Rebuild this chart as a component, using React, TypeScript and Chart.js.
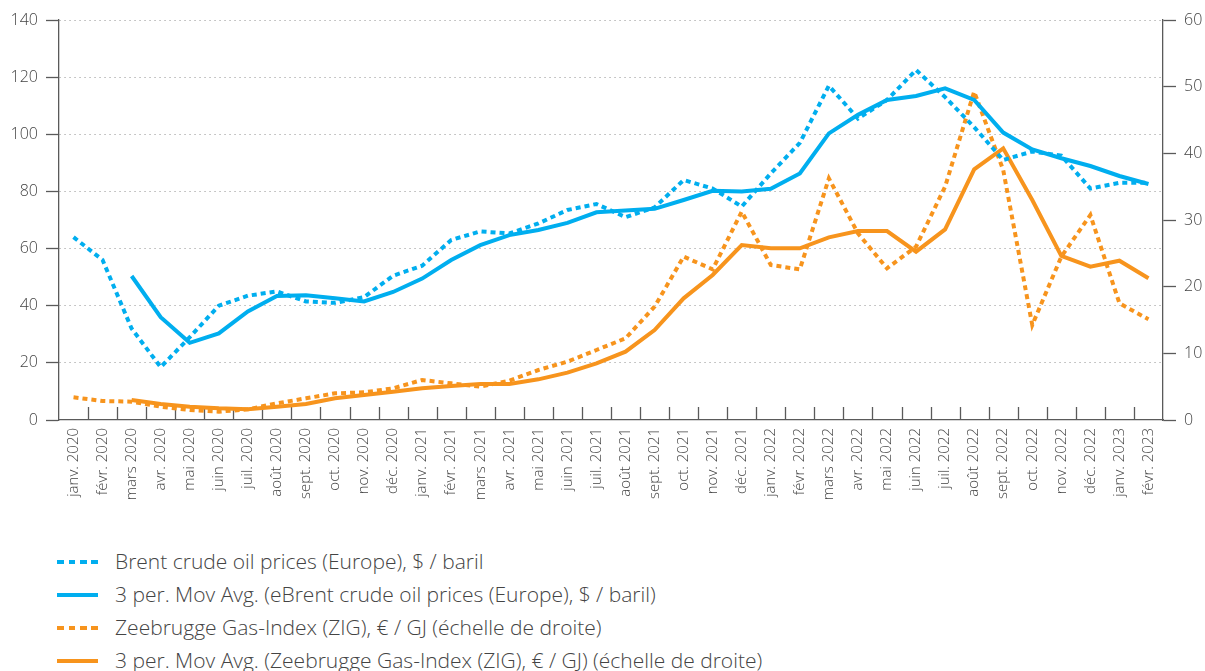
import React, { useEffect, useRef } from "react";
import { Chart, registerables } from "chart.js";

Chart.register(...registerables);

const months = [
  "janv. 2020", "févr. 2020", "mars 2020", "avr. 2020", "mai 2020", "juin 2020",
  "juil. 2020", "août 2020", "sept. 2020", "oct. 2020", "nov. 2020", "déc. 2020",
  "janv. 2021", "févr. 2021", "mars 2021", "avr. 2021", "mai 2021", "juin 2021",
  "juil. 2021", "août 2021", "sept. 2021", "oct. 2021", "nov. 2021", "déc. 2021",
  "janv. 2022", "févr. 2022", "mars 2022", "avr. 2022", "mai 2022", "juin 2022",
  "juil. 2022", "août 2022", "sept. 2022", "oct. 2022", "nov. 2022", "déc. 2022",
  "janv. 2023", "févr. 2023",
];

const brent = [
  64, 56, 32, 18.5, 29, 40, 43.5, 45, 41.5, 41, 43, 50.5,
  54, 63, 66, 65.3, 68.8, 73.5, 75.6, 71, 74.4, 84, 81, 74.7,
  86.3, 97, 117, 105.5, 112, 122.5, 113, 102.5, 91, 94, 92.5, 81,
  83, 83,
];

const brentMA = [
  null, null, 50.4, 36, 27, 30.3, 38, 43.4, 43.7, 42.6, 41.5, 44.8,
  49.5, 56, 61.2, 64.7, 66.5, 69, 72.7, 73.3, 73.9, 77, 80.2, 80,
  80.9, 86.3, 100.3, 106.8, 112, 113.4, 116.1, 112, 100.6, 94.7, 91.6, 88.9,
  85.4, 82.6,
];

const zig = [
  3.4, 2.85, 2.75, 2.0, 1.5, 1.25, 1.6, 2.5, 3.25, 4.0, 4.15, 4.75,
  6.0, 5.5, 5.0, 5.9, 7.5, 8.75, 10.5, 12.25, 17, 24.5, 22.6, 31.25,
  23.25, 22.6, 36.25, 28.0, 22.75, 26.0, 35, 49.25, 37.5, 14.25, 24.5, 30.75,
  17.5, 15.1,
];

const zigMA = [
  null, null, 3.0, 2.4, 2.0, 1.75, 1.6, 2.0, 2.4, 3.25, 3.75, 4.25,
  4.75, 5.1, 5.4, 5.4, 6.1, 7.1, 8.5, 10.25, 13.5, 18.25, 21.75, 26.25,
  25.75, 25.75, 27.4, 28.35, 28.35, 25.25, 28.6, 37.6, 40.75, 33, 24.6, 23,
  23.9, 21.25,
];

const legendLabels = [
  "Brent crude oil prices (Europe), $ / baril",
  "3 per. Mov Avg. (eBrent crude oil prices (Europe), $ / baril)",
  "Zeebrugge Gas-Index (ZIG), € / GJ (échelle de droite)",
  "3 per. Mov Avg. (Zeebrugge Gas-Index (ZIG), € / GJ) (échelle de droite)",
];

const BLUE = "#00aeef";
const ORANGE = "#f7941d";
const AXIS = "#5a5a5a";
const TEXT = "#444444";
const FONT = "'Open Sans', 'Noto Sans', sans-serif";

const innerTicks = {
  id: "innerTicks",
  beforeDatasetsDraw(chart: any) {
    const x = chart.scales.x;
    const area = chart.chartArea;
    const ctx = chart.ctx;
    ctx.save();
    ctx.strokeStyle = AXIS;
    ctx.lineWidth = 1.3;
    for (let i = 1; i < months.length; i++) {
      const px = Math.round((x.getPixelForTick(i - 1) + x.getPixelForTick(i)) / 2) + 0.5;
      ctx.beginPath();
      ctx.moveTo(px, area.bottom);
      ctx.lineTo(px, area.bottom - 13);
      ctx.stroke();
    }
    ctx.restore();
  },
};

export default function App() {
  const ref = useRef<HTMLCanvasElement | null>(null);

  useEffect(() => {
    if (!ref.current) return;
    const chart = new Chart(ref.current, {
      type: "line",
      data: {
        labels: months,
        datasets: [
          {
            label: legendLabels[0],
            data: brent,
            yAxisID: "y",
            borderColor: BLUE,
            borderWidth: 4,
            borderDash: [5, 4],
            pointRadius: 0,
            tension: 0,
          },
          {
            label: legendLabels[1],
            data: brentMA,
            yAxisID: "y",
            borderColor: BLUE,
            borderWidth: 4,
            pointRadius: 0,
            tension: 0,
          },
          {
            label: legendLabels[2],
            data: zig,
            yAxisID: "y1",
            borderColor: ORANGE,
            borderWidth: 4,
            borderDash: [5, 4],
            pointRadius: 0,
            tension: 0,
          },
          {
            label: legendLabels[3],
            data: zigMA,
            yAxisID: "y1",
            borderColor: ORANGE,
            borderWidth: 4,
            pointRadius: 0,
            tension: 0,
          },
        ],
      },
      options: {
        animation: false,
        responsive: false,
        layout: { padding: { top: 20, left: 0, right: 0, bottom: 0 } },
        plugins: {
          legend: { display: false },
          tooltip: { enabled: false },
        },
        scales: {
          x: {
            type: "category",
            offset: true,
            grid: { display: true, drawOnChartArea: false, drawTicks: false, color: "rgba(0,0,0,0)" },
            border: { display: true, color: AXIS, width: 1.3 },
            ticks: {
              minRotation: 90,
              maxRotation: 90,
              autoSkip: false,
              padding: 8,
              color: TEXT,
              font: { family: FONT, size: 15, weight: "300" as any },
            },
            afterFit: (s: any) => {
              s.height = 120;
            },
          },
          y: {
            position: "left",
            min: 0,
            max: 140,
            ticks: {
              stepSize: 20,
              padding: 8,
              color: TEXT,
              font: { family: FONT, size: 16, weight: "300" as any },
            },
            grid: {
              color: (c: any) => (c.tick && c.tick.value === 0 ? "rgba(0,0,0,0)" : "#b5b5b5"),
              lineWidth: 1,
              tickLength: 13,
              tickColor: AXIS,
              tickWidth: 1.3,
              tickBorderDash: [],
            },
            border: { display: true, color: AXIS, width: 1.3, dash: [1.5, 3.5] },
            afterFit: (s: any) => {
              s.width = 59;
            },
          },
          y1: {
            position: "right",
            min: 0,
            max: 60,
            ticks: {
              stepSize: 10,
              padding: 8,
              color: TEXT,
              font: { family: FONT, size: 16, weight: "300" as any },
            },
            grid: {
              drawOnChartArea: false,
              tickLength: 13,
              tickColor: AXIS,
              tickWidth: 1.3,
            },
            border: { display: true, color: AXIS, width: 1.3 },
            afterFit: (s: any) => {
              s.width = 42;
            },
          },
        },
      },
      plugins: [innerTicks],
    });
    return () => chart.destroy();
  }, []);

  const sample = (color: string, dotted: boolean) => (
    <span
      style={{
        display: "inline-block",
        flex: "0 0 auto",
        width: 41,
        height: 4,
        marginLeft: 57,
        marginRight: 17,
        background: dotted
          ? `repeating-linear-gradient(to right, ${color} 0px, ${color} 6.5px, transparent 6.5px, transparent 11.5px)`
          : color,
      }}
    />
  );

  const styles = [
    [BLUE, true],
    [BLUE, false],
    [ORANGE, true],
    [ORANGE, false],
  ] as [string, boolean][];

  return (
    <div style={{ position: "absolute", left: 0, top: 0, width: 1205, height: 671, background: "#fff" }}>
      <canvas ref={ref} width={1205} height={540} style={{ position: "absolute", left: 0, top: 0 }} />
      <div style={{ position: "absolute", left: 0, top: 545, width: 1205 }}>
        {legendLabels.map((t, i) => (
          <div
            key={i}
            style={{
              height: 33,
              lineHeight: "33px",
              fontFamily: FONT,
              fontWeight: 300,
              fontSize: 21,
              color: TEXT,
              whiteSpace: "nowrap",
              display: "flex",
              alignItems: "center",
            }}
          >
            {sample(styles[i][0], styles[i][1])}
            <span>{t}</span>
          </div>
        ))}
      </div>
    </div>
  );
}
